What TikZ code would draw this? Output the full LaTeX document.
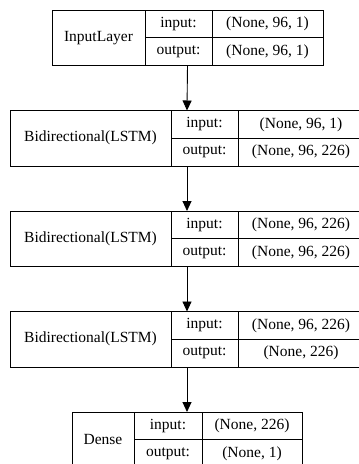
\documentclass[tikz,border=0pt]{standalone}
\usepackage{fontspec}
\setmainfont{Liberation Serif}
\usetikzlibrary{arrows.meta,positioning,fit}
\tikzset{
  celda/.style={
    draw, line width=0.9pt, inner sep=0pt, outer sep=0pt,
    anchor=north west, align=center, font=\fontsize{15.5}{18}\selectfont},
  nombre/.style={celda, minimum height=55.5pt},
  puerto/.style={celda, minimum height=27.75pt, minimum width=67pt},
  forma/.style={celda, minimum height=27.75pt},
  capa/.style={inner sep=0pt, outer sep=0pt},
  flecha/.style={-{Triangle[length=10pt,width=9pt]}, line width=0.9pt}
}

\begin{document}
\begin{tikzpicture}[x=1pt,y=-1pt]
\useasboundingbox (0,0) rectangle (359,464);
\clip (0,0) rectangle (359,464);

\node[nombre, minimum width=93pt] (inp) at (52,10) {InputLayer};
\node[puerto] (inp-i) at (inp.north east) {input:};
\node[puerto] (inp-o) at (inp-i.south west) {output:};
\node[forma, minimum width=111pt] (inp-ti) at (inp-i.north east) {(None, 96, 1)};
\node[forma, minimum width=111pt] (inp-to) at (inp-o.north east) {(None, 96, 1)};
\node[capa, fit=(inp)(inp-to)] (c1) {};

\node[nombre, minimum width=161pt] (bi1) at (10,110.5) {Bidirectional(LSTM)};
\node[puerto] (bi1-i) at (bi1.north east) {input:};
\node[puerto] (bi1-o) at (bi1-i.south west) {output:};
\node[forma, minimum width=126pt] (bi1-ti) at (bi1-i.north east) {(None, 96, 1)};
\node[forma, minimum width=126pt] (bi1-to) at (bi1-o.north east) {(None, 96, 226)};
\node[capa, fit=(bi1)(bi1-to)] (c2) {};

\node[nombre, minimum width=161pt] (bi2) at (10,211) {Bidirectional(LSTM)};
\node[puerto] (bi2-i) at (bi2.north east) {input:};
\node[puerto] (bi2-o) at (bi2-i.south west) {output:};
\node[forma, minimum width=126pt] (bi2-ti) at (bi2-i.north east) {(None, 96, 226)};
\node[forma, minimum width=126pt] (bi2-to) at (bi2-o.north east) {(None, 96, 226)};
\node[capa, fit=(bi2)(bi2-to)] (c3) {};

\node[nombre, minimum width=161pt] (bi3) at (10,311.5) {Bidirectional(LSTM)};
\node[puerto] (bi3-i) at (bi3.north east) {input:};
\node[puerto] (bi3-o) at (bi3-i.south west) {output:};
\node[forma, minimum width=126pt] (bi3-ti) at (bi3-i.north east) {(None, 96, 226)};
\node[forma, minimum width=126pt] (bi3-to) at (bi3-o.north east) {(None, 226)};
\node[capa, fit=(bi3)(bi3-to)] (c4) {};

\node[nombre, minimum width=62pt] (den) at (72,412) {Dense};
\node[puerto, minimum width=68pt] (den-i) at (den.north east) {input:};
\node[puerto, minimum width=68pt] (den-o) at (den-i.south west) {output:};
\node[forma, minimum width=100pt] (den-ti) at (den-i.north east) {(None, 226)};
\node[forma, minimum width=100pt] (den-to) at (den-o.north east) {(None, 1)};
\node[capa, fit=(den)(den-to)] (c5) {};

\draw[flecha] (c1.south) -- (c2.north);
\draw[flecha] (c2.south) -- (c3.north);
\draw[flecha] (c3.south) -- (c4.north);
\draw[flecha] (c4.south) -- (c5.north);

\end{tikzpicture}
\end{document}
